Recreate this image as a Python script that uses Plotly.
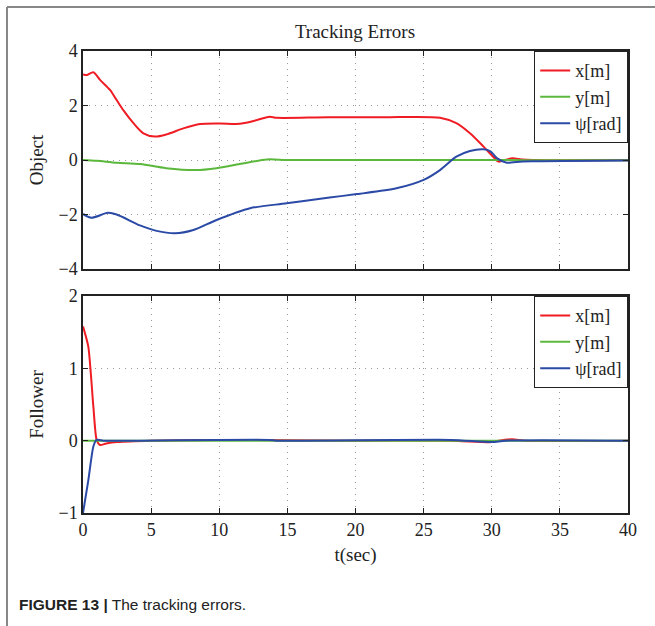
import plotly.graph_objects as go

# ---------------- data ----------------
t_obj_x = [0, 0.3, 0.76, 1.25, 1.98, 2.47, 3.0, 3.7, 4.43, 5.28, 6.13, 7.36, 8.59, 10.06, 11.5,
           12.5, 13.7, 14.2, 18, 22, 26.2, 27.4, 28.4, 29.4, 30.1, 30.5, 31.0, 31.5, 32.2, 33, 40]
obj_x = [3.14, 3.12, 3.22, 2.94, 2.57, 2.2, 1.8, 1.35, 0.98, 0.86, 0.94, 1.16, 1.32, 1.34, 1.33,
         1.43, 1.59, 1.55, 1.57, 1.57, 1.55, 1.35, 0.98, 0.49, 0.12, -0.06, 0.0, 0.06, 0.02, 0.0, 0.0]

t_obj_y = [0, 1, 2.5, 4.2, 6.1, 8.3, 9.8, 11.5, 13.5, 15, 20, 25, 30, 35, 40]
obj_y = [0, -0.03, -0.1, -0.15, -0.3, -0.37, -0.3, -0.15, 0.02, 0.0, 0.0, 0.0, 0.0, -0.01, -0.01]

t_obj_psi = [0, 0.6, 1.83, 2.47, 4.18, 5.4, 6.75, 8.1, 9.8, 12.26, 14.95, 18.1, 20.1, 23.0, 25,
             26.2, 27.4, 28.4, 29.4, 29.9, 30.4, 31.1, 31.6, 33, 40]
obj_psi = [-1.98, -2.12, -1.94, -2.0, -2.4, -2.6, -2.69, -2.57, -2.2, -1.77, -1.59, -1.38, -1.25,
           -1.04, -0.73, -0.37, 0.12, 0.33, 0.39, 0.32, 0.06, -0.1, -0.08, -0.05, -0.02]

t_fol_x = [0, 0.39, 0.76, 1.0, 1.25, 1.7, 2.5, 5, 10, 20, 27, 30, 30.5, 31.5, 32.5, 40]
fol_x = [1.58, 1.30, 0.47, 0.01, -0.06, -0.04, -0.02, 0, 0.01, 0.0, 0.0, -0.02, 0, 0.02, 0, 0]

t_fol_y = [0, 10, 20, 30, 40]
fol_y = [0, 0, 0, 0, 0]

t_fol_psi = [0, 0.39, 0.76, 1.0, 1.5, 3, 13.7, 14.2, 27, 30, 31, 40]
fol_psi = [-1.0, -0.55, -0.08, 0.01, 0.0, 0.0, 0.01, 0, 0.01, -0.02, 0, 0]

series_names = ["x[m]", "y[m]", "ψ[rad]"]
x_ticks = [0, 5, 10, 15, 20, 25, 30, 35, 40]
obj_ticks = [-4, -2, 0, 2, 4]
fol_ticks = [-1, 0, 1, 2]

# ---------------- style ----------------
RED, GREEN, BLUE = "#ef1c24", "#5cb83c", "#2b4aa6"
SERIF = "Liberation Serif"
W, H = 655, 626
L, R, T, B = 83, 27, 51, 113
PW, PH = W - L - R, H - T - B

def px_x(px):
    return (px - L) / PW

def px_y(py):
    return (H - B - py) / PH

fig = go.Figure()
top = [(t_obj_x, obj_x, RED), (t_obj_y, obj_y, GREEN), (t_obj_psi, obj_psi, BLUE)]
bot = [(t_fol_x, fol_x, RED), (t_fol_y, fol_y, GREEN), (t_fol_psi, fol_psi, BLUE)]
for (tx, vy, c), name in zip(top, series_names):
    fig.add_trace(go.Scatter(x=tx, y=vy, mode="lines", name=name, xaxis="x", yaxis="y",
                             line=dict(color=c, width=2, shape="spline", smoothing=0.8),
                             legend="legend"))
for (tx, vy, c), name in zip(bot, series_names):
    fig.add_trace(go.Scatter(x=tx, y=vy, mode="lines", name=name, xaxis="x2", yaxis="y2",
                             line=dict(color=c, width=2, shape="spline", smoothing=0.6),
                             legend="legend2"))

axis_common = dict(showline=True, linecolor="#222", linewidth=1.5, mirror="ticks",
                   ticks="inside", ticklen=5, tickcolor="#222",
                   showgrid=True, gridcolor="#999999", griddash="1px,5px", gridwidth=1.3,
                   zeroline=False, tickfont=dict(family=SERIF, size=18, color="#222"))

bot_dom = [0, 217 / PH]
top_dom = [(H - B - 269) / PH, 1]

fig.update_layout(
    width=W, height=H,
    margin=dict(l=L, r=R, t=T, b=B),
    paper_bgcolor="white", plot_bgcolor="white",
    showlegend=True,
    xaxis=dict(axis_common, domain=[0, 1], range=[0, 40], tickvals=x_ticks,
               showticklabels=False, anchor="y"),
    yaxis=dict(axis_common, domain=top_dom, range=[-4, 4], tickvals=obj_ticks,
               ticktext=[str(v).replace("-", "−") for v in obj_ticks], anchor="x",
               title=dict(text="Object", font=dict(family=SERIF, size=19, color="#222"), standoff=10)),
    xaxis2=dict(axis_common, domain=[0, 1], range=[0, 40], tickvals=x_ticks, anchor="y2",
                title=dict(text="t(sec)", font=dict(family=SERIF, size=19, color="#222"), standoff=8)),
    yaxis2=dict(axis_common, domain=bot_dom, range=[-1, 2], tickvals=fol_ticks,
                ticktext=[str(v).replace("-", "−") for v in fol_ticks], anchor="x2",
                title=dict(text="Follower", font=dict(family=SERIF, size=19, color="#222"), standoff=10)),
    legend=dict(x=1, y=1, xanchor="right", yanchor="top", bgcolor="white",
                bordercolor="#222", borderwidth=1.2,
                font=dict(family=SERIF, size=18, color="#222"), tracegroupgap=0),
    legend2=dict(x=1, y=bot_dom[1], xanchor="right", yanchor="top", bgcolor="white",
                 bordercolor="#222", borderwidth=1.2,
                 font=dict(family=SERIF, size=18, color="#222"), tracegroupgap=0),
    title=dict(text="Tracking Errors", x=px_x(355), xref="paper", xanchor="center",
               y=1 - 31 / H, yanchor="middle", font=dict(family=SERIF, size=19, color="#222")),
)

# outer frame
fig.add_shape(type="line", xref="paper", yref="paper", x0=px_x(7), x1=px_x(7),
              y0=px_y(7), y1=px_y(626), line=dict(color="#888", width=2))
fig.add_shape(type="line", xref="paper", yref="paper", x0=px_x(7), x1=px_x(655),
              y0=px_y(7), y1=px_y(7), line=dict(color="#888", width=2))

# caption
fig.add_annotation(text="<b>FIGURE 13 |</b> The tracking errors.", xref="paper", yref="paper",
                   x=px_x(17), y=px_y(604), xanchor="left", yanchor="middle", showarrow=False,
                   font=dict(family="Liberation Sans", size=15.5, color="#222"))

fig.write_html("out.html", config={"displayModeBar": False},
               post_script="document.body.style.margin='0';")
